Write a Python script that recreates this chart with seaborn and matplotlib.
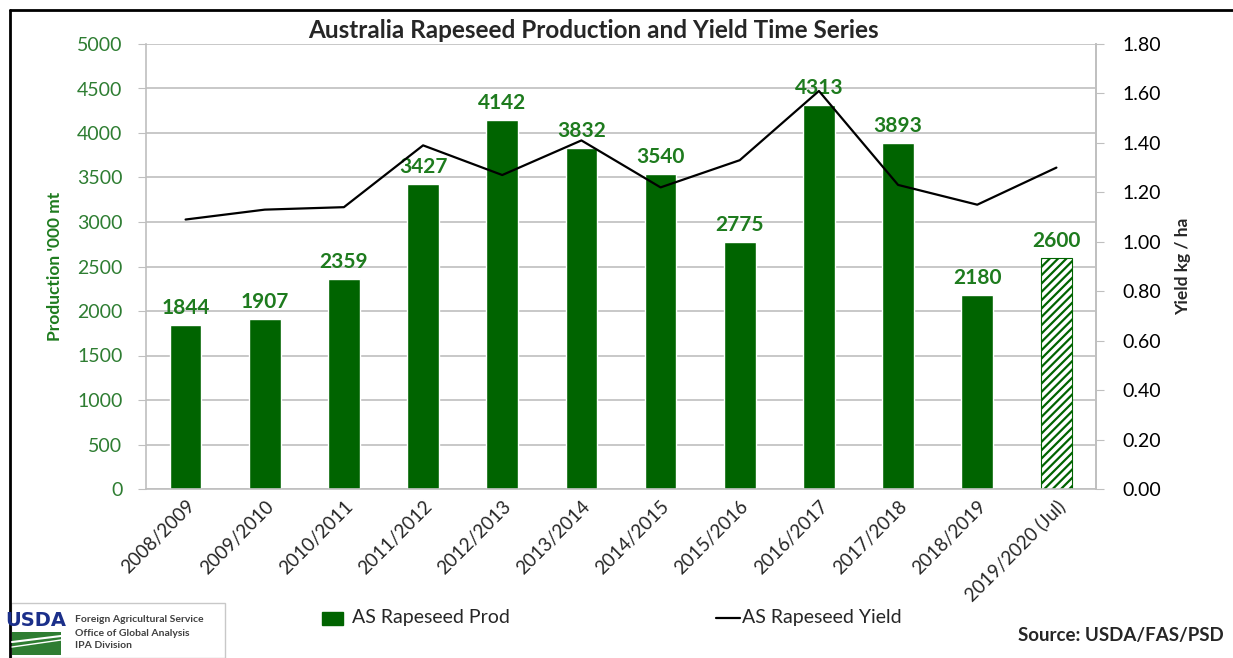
import matplotlib
matplotlib.use("Agg")
import matplotlib.pyplot as plt
import matplotlib.patches as mpatches
from matplotlib.lines import Line2D
import seaborn as sns
import pandas as pd
import numpy as np

# ---- data ----
seasons = ["2008/2009", "2009/2010", "2010/2011", "2011/2012", "2012/2013", "2013/2014",
           "2014/2015", "2015/2016", "2016/2017", "2017/2018", "2018/2019", "2019/2020 (Jul)"]
production = [1844, 1907, 2359, 3427, 4142, 3832, 3540, 2775, 4313, 3893, 2180, 2600]
yield_kg_ha = [1.09, 1.13, 1.14, 1.39, 1.27, 1.41, 1.22, 1.33, 1.61, 1.23, 1.15, 1.30]
left_ticks = [0, 500, 1000, 1500, 2000, 2500, 3000, 3500, 4000, 4500, 5000]
right_ticks = [0.0, 0.2, 0.4, 0.6, 0.8, 1.0, 1.2, 1.4, 1.6, 1.8]

df = pd.DataFrame({"season": seasons, "prod": production, "yield": yield_kg_ha})

sns.set_style("white")
plt.rcParams["font.family"] = ["Lato", "DejaVu Sans"]
plt.rcParams["hatch.linewidth"] = 1.6

BAR = "#006400"
LBL = "#1E7B1E"
GRID = "#BFBFBF"

fig = plt.figure(figsize=(12.33, 6.58), dpi=100)
ax = fig.add_axes([146/1233, 1 - 489/658, (1096-146)/1233, (489-44)/658])

sns.barplot(data=df, x="season", y="prod", color=BAR, width=0.4, saturation=1,
            ax=ax, zorder=2)
# last bar hatched (forecast)
last = ax.patches[-1]
last.set_facecolor("white")
last.set_edgecolor(BAR)
last.set_hatch("////")
last.set_linewidth(0.8)

ax.set_ylim(0, 5000)
ax.set_xlim(-0.5, len(seasons) - 0.5)
ax.set_yticks(left_ticks)
ax.set_yticklabels([str(t) for t in left_ticks], color="#2E7D32", fontsize=14)
ax.yaxis.grid(True, color=GRID, linewidth=1.2, zorder=0)
ax.set_axisbelow(True)
ax.set_xlabel("")
ax.set_ylabel("Production '000 mt", color=LBL, fontsize=12.5, fontweight="bold", labelpad=10)
ax.set_xticks(np.arange(len(seasons)))
ax.set_xticklabels(seasons, rotation=45, ha="right", rotation_mode="anchor", fontsize=13.5)
ax.spines["top"].set_visible(False)
for s in ["left", "bottom", "right"]:
    ax.spines[s].set_color(GRID)
    ax.spines[s].set_linewidth(1.2)

# x ticks at category boundaries
ax.set_xticks(np.arange(len(seasons) + 1) - 0.5, minor=True)
ax.tick_params(axis="x", which="major", length=0, pad=6)
ax.tick_params(axis="x", which="minor", length=6, color=GRID, direction="out")
ax.tick_params(axis="y", length=6, color=GRID, direction="out", pad=11)

# data labels
for i, v in enumerate(production):
    ax.annotate(str(v), (i, v), xytext=(0, 5), textcoords="offset points",
                ha="center", va="bottom", color=LBL, fontsize=15, fontweight="bold", zorder=5)

# yield line on secondary axis
ax2 = ax.twinx()
sns.lineplot(x=np.arange(len(seasons)), y=yield_kg_ha, color="black", linewidth=1.6, ax=ax2, zorder=4)
ax2.set_ylim(0, 1.8)
ax2.set_yticks(right_ticks)
ax2.set_yticklabels([f"{t:.2f}" for t in right_ticks], fontsize=14, color="black")
ax2.set_ylabel("Yield kg / ha", fontsize=12.5, fontweight="bold", labelpad=10)
ax2.tick_params(axis="y", length=6, color=GRID, direction="out", pad=13)
for s in ["top", "left", "bottom"]:
    ax2.spines[s].set_visible(False)
ax2.spines["right"].set_color(GRID)
ax2.spines["right"].set_linewidth(1.2)
ax2.set_xlim(-0.5, len(seasons) - 0.5)

# title
fig.text(593/1233, 1 - 31/658, "Australia Rapeseed Production and Yield Time Series",
         ha="center", va="center", fontsize=17.5, fontweight="bold")

# legend
fig.patches.append(mpatches.Rectangle((322/1233, 1 - 625/658), 21/1233, 13/658,
                                      transform=fig.transFigure, facecolor=BAR, edgecolor=BAR))
fig.text(352/1233, 1 - 618/658, "AS Rapeseed Prod", ha="left", va="center", fontsize=14)
fig.lines.append(Line2D([716/1233, 740/1233], [1 - 618/658, 1 - 618/658],
                        transform=fig.transFigure, color="black", linewidth=1.6))
fig.text(742/1233, 1 - 618/658, "AS Rapeseed Yield", ha="left", va="center", fontsize=14)

# source
fig.text(1018/1233, 1 - 636/658, "Source: USDA/FAS/PSD", ha="left", va="center",
         fontsize=13.5, fontweight="bold")

# frame (left and top edges)
fig.lines.append(Line2D([10/1233, 10/1233], [0, 1 - 10/658], transform=fig.transFigure,
                        color="black", linewidth=2))
fig.lines.append(Line2D([10/1233, 1], [1 - 10/658, 1 - 10/658], transform=fig.transFigure,
                        color="black", linewidth=2))

# USDA logo box
fig.patches.append(mpatches.Rectangle((11/1233, 0), 214/1233, 55/658, transform=fig.transFigure,
                                      facecolor="white", edgecolor="#C8C8C8", linewidth=1))
fig.text(36/1233, 1 - 620/658, "USDA", ha="center", va="center", fontsize=14, color="#1B2F8A",
         fontweight="bold", family=["Liberation Sans Narrow", "DejaVu Sans"])
fig.patches.append(mpatches.Rectangle((12/1233, 1 - 655/658), 49/1233, 23/658,
                                      transform=fig.transFigure, facecolor="#2E7D32", edgecolor="none"))
fig.lines.append(Line2D([12/1233, 61/1233], [1 - 642/658, 1 - 636/658], transform=fig.transFigure,
                        color="white", linewidth=1.5))
fig.lines.append(Line2D([12/1233, 61/1233], [1 - 647/658, 1 - 640/658], transform=fig.transFigure,
                        color="white", linewidth=1.0))
for k, t in enumerate(["Foreign Agricultural Service", "Office of Global Analysis", "IPA Division"]):
    fig.text(75/1233, 1 - (620 + 13*k)/658, t, ha="left", va="center", fontsize=7.5,
             fontweight="bold", color="#404040")

fig.savefig("out.png", dpi=100)
